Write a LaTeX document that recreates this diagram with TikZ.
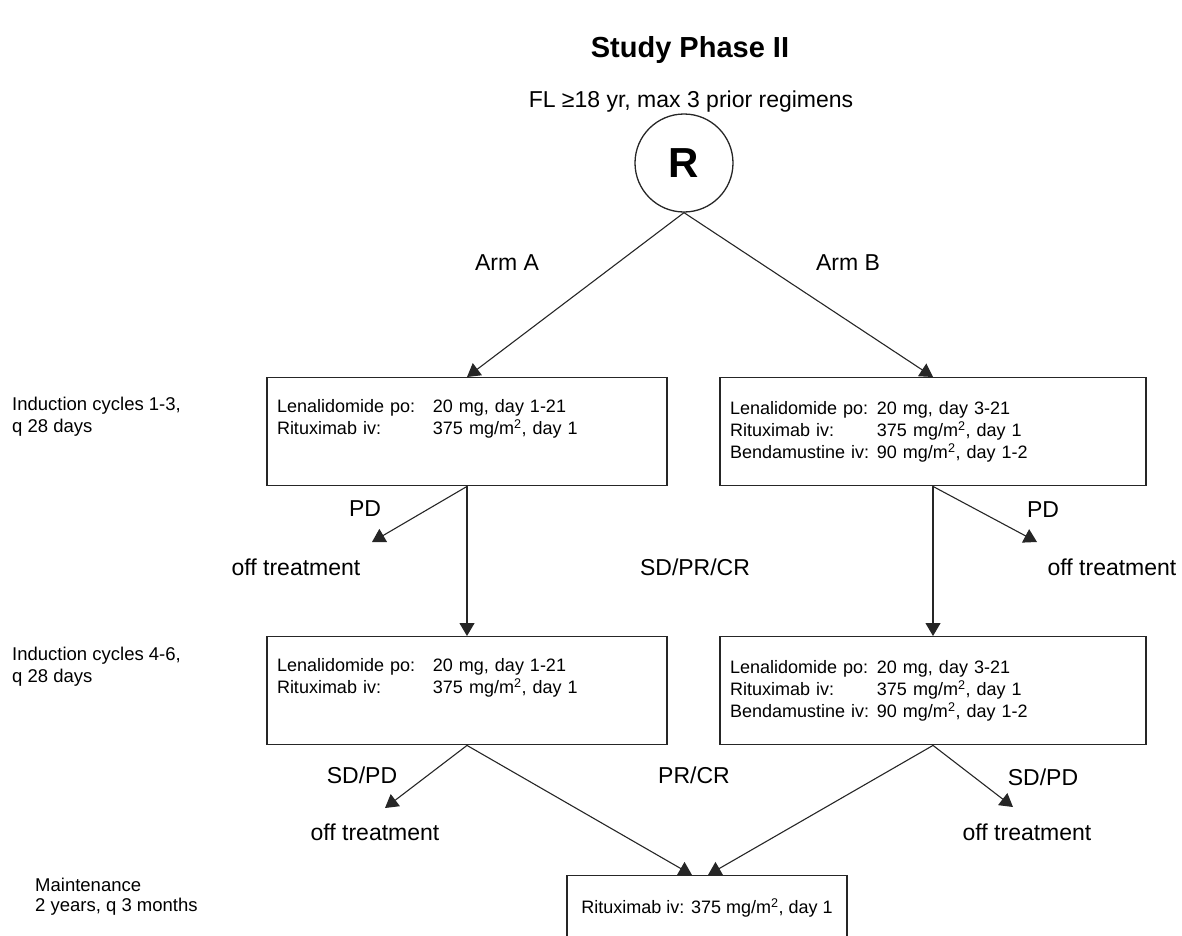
\documentclass[tikz,border=0pt]{standalone}
\usepackage{fontspec}
\setmainfont{Liberation Sans}
\usetikzlibrary{arrows.meta,positioning}

\begin{document}
\begin{tikzpicture}[x=1pt, y=-1pt, line cap=round,
  >={Triangle[width=15pt,length=13pt]},
  lbl/.style={inner sep=0pt, font=\fontsize{23}{27}\selectfont},
  side/.style={anchor=west, align=left, inner sep=0pt, font=\fontsize{18.5}{22}\selectfont},
  regimen/.style={draw=black!85, line width=1.4pt, anchor=north, align=left,
    inner xsep=10pt, minimum height=108pt, font=\fontsize{18}{22}\selectfont},
  link/.style={->, line width=1.1pt, black!85}]

\useasboundingbox (0,0) rectangle (1182,935);

% --- layout helpers ---
\def\A{467}   % arm A column x
\def\B{933}   % arm B column x

% --- heading ---
\node[font=\bfseries\fontsize{29}{34}\selectfont] (title) at (690,50) {Study Phase II};
\node[lbl] (elig) at (691,102) {FL ≥18 yr, max 3 prior regimens};

% --- randomisation ---
\node[circle, draw=black!85, line width=1.3pt, minimum size=98pt, inner sep=0pt,
  font=\bfseries\fontsize{42}{48}\selectfont] (rand) at (684,163) {R};
\node[lbl] (armA) at (507,263) {Arm A};
\node[lbl] (armB) at (848,263) {Arm B};

% --- dosing text of each arm ---
\newcommand{\armAdose}{%
  \makebox[156pt][l]{Lenalidomide po:}20 mg, day 1-21\\
  \makebox[156pt][l]{Rituximab iv:}375 mg/m\textsuperscript{2}, day 1\\
  \strut}
\newcommand{\armBdose}{%
  \makebox[147pt][l]{Lenalidomide po:}20 mg, day 3-21\\
  \makebox[147pt][l]{Rituximab iv:}375 mg/m\textsuperscript{2}, day 1\\
  \makebox[147pt][l]{Bendamustine iv:}90 mg/m\textsuperscript{2}, day 1-2}

% --- side labels ---
\node[side] (ind1) at (12,417) {Induction cycles 1-3,\\q 28 days};
\node[side] (ind2) at (12,667) {Induction cycles 4-6,\\q 28 days};
\node[side, font=\fontsize{18.5}{20}\selectfont] (mlbl) at (35,897) {Maintenance\\2 years, q 3 months};

% --- treatment boxes ---
\node[regimen, text width=380pt] (A1) at (\A,377) {\armAdose};
\node[regimen, text width=406pt] (B1) at (\B,377) {\armBdose};
\node[regimen, text width=380pt] (A2) at (\A,636) {\armAdose};
\node[regimen, text width=406pt] (B2) at (\B,636) {\armBdose};
\node[draw=black!85, line width=1.4pt, anchor=north, minimum width=280pt, minimum height=64pt,
  font=\fontsize{18}{22}\selectfont] (maint) at (707,875) {Rituximab iv: 375 mg/m\textsuperscript{2}, day 1};

% --- responses that go on ---
\node[lbl] (respA) at (695,567) {SD/PR/CR};
\node[lbl] (respM) at (694,775) {PR/CR};

\draw[link] (rand.south) -- (A1.north);
\draw[link] (rand.south) -- (B1.north);
\draw[link] (A1.south) -- (A2.north);
\draw[link] (B1.south) -- (B2.north);
\draw[link] (A2.south) -- ([xshift=-15pt]maint.north);
\draw[link] (B2.south) -- ([xshift=1pt]maint.north);

% --- a small macro for each stop: arrow to a free tip, response label, off treatment ---
\newcommand{\offbranch}[6]{%
  % name, source box, tip, response, response pos, off treatment pos
  \coordinate (#1tip) at (#3);
  \node[lbl] (#1resp) at (#5) {#4};
  \node[lbl] (#1off) at (#6) {off treatment};
  \draw[link] (#2.south) -- (#1tip);
}

\offbranch{pdA}{A1}{372,542}{PD}{365,509}{296,567}
\offbranch{pdB}{B1}{1037,542}{PD}{1043,510}{1112,567}
\offbranch{sdA}{A2}{385,808}{SD/PD}{362,775}{375,832}
\offbranch{sdB}{B2}{1013,807}{SD/PD}{1043,777}{1027,832}

\end{tikzpicture}
\end{document}
